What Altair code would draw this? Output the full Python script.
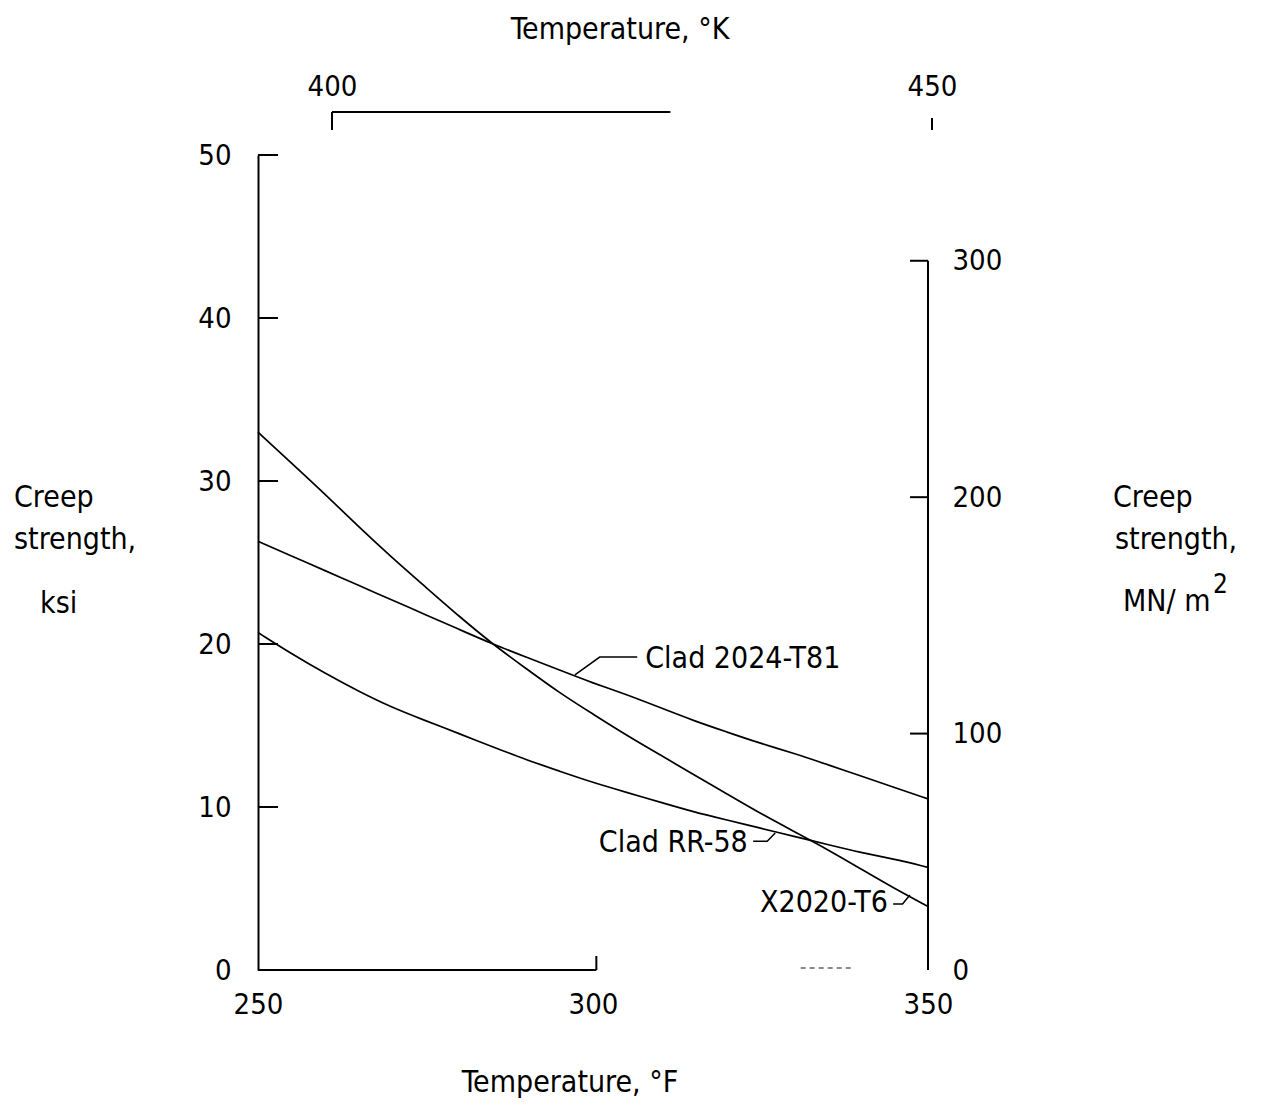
import altair as alt
import pandas as pd

# ---- data ----
temps_f = [250, 255, 260, 265, 270, 275, 280, 285, 290, 295, 300,
           305, 310, 315, 320, 325, 330, 335, 340, 345, 350]
x2020_t6 = [33.0, 31.1, 29.2, 27.2, 25.3, 23.5, 21.7, 20.0, 18.5, 17.0, 15.7,
            14.4, 13.2, 12.0, 10.8, 9.6, 8.5, 7.4, 6.2, 5.0, 3.9]
clad_2024_t81 = [26.3, 25.4, 24.5, 23.6, 22.7, 21.8, 20.9, 20.0, 19.2, 18.4, 17.6,
                 16.9, 16.1, 15.3, 14.6, 13.9, 13.3, 12.6, 11.9, 11.2, 10.5]
clad_rr58 = [20.7, 19.4, 18.2, 17.1, 16.1, 15.3, 14.5, 13.7, 12.9, 12.2, 11.5,
             10.9, 10.3, 9.7, 9.2, 8.7, 8.2, 7.7, 7.2, 6.8, 6.3]

f_ticks = [250, 300, 350]
ksi_ticks = [0, 10, 20, 30, 40, 50]
mn_ticks = [0, 100, 200, 300]
k_ticks = [400, 450]

labels = ["Clad 2024-T81", "Clad RR-58", "X2020-T6"]
label_temp = [307.8, 323.1, 344.0]
label_ksi = [19.1, 7.8, 4.1]

leader_alloy = ["a", "a", "a", "b", "b", "b", "c", "c", "c"]
leader_temp = [297.3, 301.0, 306.6, 323.9, 326.0, 327.2, 344.8, 346.2, 347.3]
leader_ksi = [18.1, 19.2, 19.2, 7.9, 7.9, 8.4, 4.05, 4.05, 4.6]

# ---- layout / style ----
W, H = 670, 815
FONT = "'DejaVu Sans Condensed', 'Liberation Sans Narrow', 'DejaVu Sans', sans-serif"
TICK_FS = 29
TEXT_FS = 30
KSI_TO_MN = 6.894757
MN_MAX = 50 * KSI_TO_MN
# kelvin scale as drawn on the reference: 400 K over x=332px, 450 K over x=932px
K_PX = 12.0
K_LO = 400 - 74 / K_PX
K_HI = 451

fscale = alt.Scale(domain=[250, 350], nice=False, zero=False)
yscale = alt.Scale(domain=[0, 50], nice=False, zero=False)
mscale = alt.Scale(domain=[0, MN_MAX], nice=False, zero=False)
kscale = alt.Scale(domain=[K_LO, K_HI], range=[0, (K_HI - K_LO) * K_PX],
                   nice=False, zero=False)

common_axis = dict(labelFont=FONT, labelFontSize=TICK_FS, labelColor="black",
                   grid=False, ticks=False, title=None, labelFlush=False)
f_axis = alt.Axis(values=f_ticks, domain=False, labelPadding=20, **common_axis)
ksi_axis = alt.Axis(values=ksi_ticks, domain=True, domainColor="black",
                    domainWidth=2, labelPadding=27, **common_axis)
mn_axis = alt.Axis(orient="right", values=mn_ticks, domain=False,
                   labelPadding=24, **common_axis)
k_axis = alt.Axis(orient="top", values=k_ticks, domain=False,
                  labelPadding=54, **common_axis)

XF = lambda f: alt.X(f, scale=fscale, axis=f_axis)
YK = lambda f: alt.Y(f, scale=yscale, axis=ksi_axis)
YM = lambda f: alt.Y(f, scale=mscale, axis=mn_axis)
XK = lambda f: alt.X(f, scale=kscale, axis=k_axis)

df = pd.DataFrame({
    "temp": temps_f * 3,
    "ksi": x2020_t6 + clad_2024_t81 + clad_rr58,
    "alloy": ["X2020-T6"] * len(temps_f) + ["Clad 2024-T81"] * len(temps_f)
             + ["Clad RR-58"] * len(temps_f),
})

lines = alt.Chart(df).mark_line(color="black", strokeWidth=1.7,
                                interpolate="basis").encode(
    x=XF("temp:Q"), y=YK("ksi:Q"), detail="alloy:N",
)

left_ticks = alt.Chart(pd.DataFrame({"ksi": ksi_ticks[1:]})).mark_rule(
    color="black", strokeWidth=2).encode(
    y=YK("ksi:Q"), x=alt.value(0), x2=alt.value(20),
)

one = pd.DataFrame({"a": [0]})
bottom_line = alt.Chart(one).mark_rule(color="black", strokeWidth=2).encode(
    x=alt.datum(250, scale=fscale, axis=f_axis), x2=alt.datum(300.5), y=alt.value(H),
)
bottom_tick = alt.Chart(one).mark_rule(color="black", strokeWidth=2).encode(
    x=alt.datum(300.5, scale=fscale, axis=f_axis), y=alt.value(H - 14), y2=alt.value(H),
)
bottom_frag = alt.Chart(one).mark_rule(color="#666666", strokeWidth=1.5,
                                       strokeDash=[5, 4]).encode(
    x=alt.datum(331, scale=fscale, axis=f_axis), x2=alt.datum(339), y=alt.value(H - 2),
)

lab_df = pd.DataFrame({"temp": label_temp, "ksi": label_ksi, "label": labels})
ann_left = alt.Chart(lab_df.iloc[[0]]).mark_text(
    align="left", baseline="middle", font=FONT, fontSize=TEXT_FS, color="black").encode(
    x=XF("temp:Q"), y=YK("ksi:Q"), text="label:N")
ann_right = alt.Chart(lab_df.iloc[[1, 2]]).mark_text(
    align="right", baseline="middle", font=FONT, fontSize=TEXT_FS, color="black").encode(
    x=XF("temp:Q"), y=YK("ksi:Q"), text="label:N")

lead_df = pd.DataFrame({"temp": leader_temp, "ksi": leader_ksi, "g": leader_alloy,
                        "o": list(range(len(leader_temp)))})
leaders = alt.Chart(lead_df).mark_line(color="black", strokeWidth=1.5).encode(
    x=XF("temp:Q"), y=YK("ksi:Q"), detail="g:N", order="o:Q")


def txt(s, x, y, size=TEXT_FS, align="left"):
    return alt.Chart(pd.DataFrame({"t": [s]})).mark_text(
        align=align, baseline="middle", font=FONT, fontSize=size, color="black").encode(
        text="t:N", x=alt.value(x), y=alt.value(y))


titles = [
    txt("Temperature, °K", 362, -125, align="center"),
    txt("Temperature, °F", 312, 928, align="center"),
    txt("Creep", -244, 343),
    txt("strength,", -244, 385),
    txt("ksi", -218, 449),
    txt("Creep", 855, 343),
    txt("strength,", 857, 385),
    txt("MN/ m", 865, 447),
    txt("2", 955, 430, size=26),
]

left = alt.layer(lines, left_ticks, bottom_line, bottom_tick, bottom_frag,
                 leaders, ann_left, ann_right, *titles)

# right (MN/m^2) and top (K) scales
r_axis = alt.Chart(pd.DataFrame({"mn": [0], "mn2": [300]})).mark_rule(
    color="black", strokeWidth=2).encode(
    x=alt.value(W), y=YM("mn:Q"), y2="mn2:Q",
)
r_ticks = alt.Chart(pd.DataFrame({"mn": mn_ticks[1:]})).mark_rule(
    color="black", strokeWidth=2).encode(
    y=YM("mn:Q"), x=alt.value(W - 18), x2=alt.value(W),
)
top_line = alt.Chart(pd.DataFrame({"k": [400], "k2": [428.2]})).mark_rule(
    color="black", strokeWidth=2).encode(
    x=XK("k:Q"), x2="k2:Q", y=alt.value(-43),
)
top_tick1 = alt.Chart(pd.DataFrame({"k": [400]})).mark_rule(
    color="black", strokeWidth=2).encode(
    x=XK("k:Q"), y=alt.value(-43), y2=alt.value(-25))
top_tick2 = alt.Chart(pd.DataFrame({"k": [450]})).mark_rule(
    color="black", strokeWidth=2).encode(
    x=XK("k:Q"), y=alt.value(-37), y2=alt.value(-25))

right = alt.layer(r_axis, r_ticks, top_line, top_tick1, top_tick2)

chart = alt.layer(left, right).resolve_scale(
    x="independent", y="independent"
).properties(
    width=W, height=H,
    autosize=alt.AutoSizeParams(type="none"),
    padding={"left": 258, "top": 155, "right": 1265 - 258 - W, "bottom": 1106 - 155 - H},
    background="white",
).configure_view(stroke=None)

chart.save("out.html", embed_options={"renderer": "svg", "actions": False})
